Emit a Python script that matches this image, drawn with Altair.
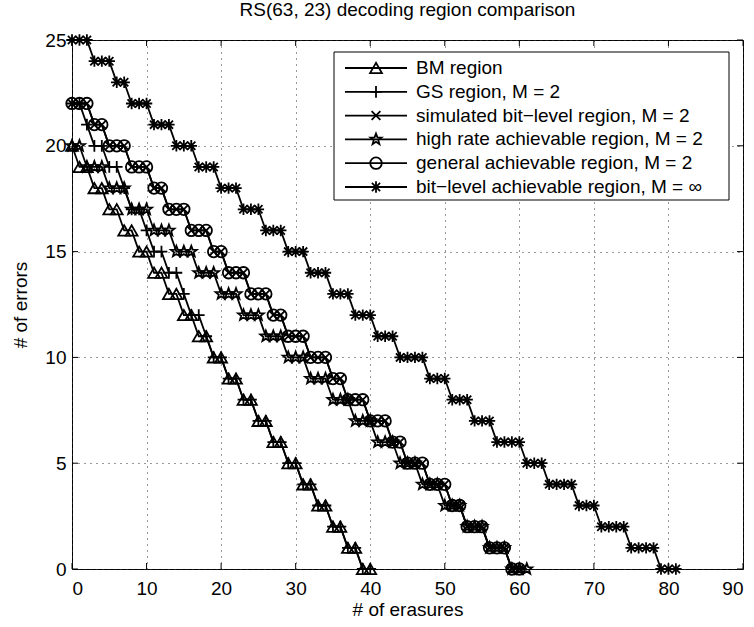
import math
import altair as alt
import pandas as pd

# ---------------- data ----------------
series_names = [
    "BM region",
    "GS region, M = 2",
    "simulated bit\u2212level region, M = 2",
    "high rate achievable region, M = 2",
    "general achievable region, M = 2",
    "bit\u2212level achievable region, M = \u221e",
]

x_ticks = [0, 10, 20, 30, 40, 50, 60, 70, 80, 90]
y_ticks = [0, 5, 10, 15, 20, 25]

# number of errors at erasures = 0, 1, 2, ...
bm_errors = [20, 19, 19, 18, 18, 17, 17, 16, 16, 15, 15, 14, 14, 13, 13, 12, 12,
             11, 11, 10, 10, 9, 9, 8, 8, 7, 7, 6, 6, 5, 5, 4, 4, 3, 3, 2, 2,
             1, 1, 0, 0]
gs_errors = [22, 22, 21, 20, 20, 19, 19, 18, 17, 17, 16, 15, 15, 14, 14, 13, 12,
             12, 11, 10, 10, 9, 9, 8, 8, 7, 7, 6, 6, 5, 5, 4, 4, 3, 3, 2, 2,
             1, 1, 0, 0]
sim_errors = [22, 22, 22, 21, 21, 20, 20, 20, 19, 19, 19, 18, 18, 17, 17, 17,
              16, 16, 16, 15, 15, 14, 14, 14, 13, 13, 13, 12, 12, 11, 11, 11,
              10, 10, 10, 9, 9, 8, 8, 8, 7, 7, 7, 6, 6, 5, 5, 5, 4, 4, 4, 3, 3,
              2, 2, 2, 1, 1, 1, 0, 0]
hr_errors = [20, 20, 19, 19, 19, 18, 18, 18, 17, 17, 17, 16, 16, 16, 15, 15, 15,
             14, 14, 14, 13, 13, 13, 12, 12, 12, 11, 11, 11, 10, 10, 10, 9, 9, 9,
             8, 8, 8, 7, 7, 7, 6, 6, 6, 5, 5, 5, 4, 4, 4, 3, 3, 3, 2, 2, 2,
             1, 1, 1, 0, 0, 0]
gen_errors = [22, 22, 22, 21, 21, 20, 20, 20, 19, 19, 19, 18, 18, 17, 17, 17,
              16, 16, 16, 15, 15, 14, 14, 14, 13, 13, 13, 12, 12, 11, 11, 11,
              10, 10, 10, 9, 9, 8, 8, 8, 7, 7, 7, 6, 6, 5, 5, 5, 4, 4, 4, 3, 3,
              2, 2, 2, 1, 1, 1, 0, 0]
bit_errors = [25, 25, 25, 24, 24, 24, 23, 23, 22, 22, 22, 21, 21, 21, 20, 20, 20,
              19, 19, 19, 18, 18, 18, 17, 17, 17, 16, 16, 16, 15, 15, 15, 14, 14,
              14, 13, 13, 13, 12, 12, 12, 11, 11, 11, 10, 10, 10, 10, 9, 9, 9,
              8, 8, 8, 7, 7, 7, 6, 6, 6, 6, 5, 5, 5, 4, 4, 4, 4, 3, 3, 3,
              2, 2, 2, 2, 1, 1, 1, 1, 0, 0, 0]

all_errors = [bm_errors, gs_errors, sim_errors, hr_errors, gen_errors, bit_errors]

rows = []
for name, errs in zip(series_names, all_errors):
    for f, e in enumerate(errs):
        rows.append({"series": name, "erasures": f, "errors": e})
df = pd.DataFrame(rows)

# ---------------- styling ----------------
FONT = "Liberation Sans"
FS = 19
W, H = 671, 529
LW = 1.8

star_pts = []
for i in range(10):
    a = -math.pi / 2 + i * math.pi / 5
    r = 1.0 if i % 2 == 0 else 0.42
    star_pts.append(f"{r * math.cos(a):.3f},{r * math.sin(a):.3f}")
star_path = "M" + " L".join(star_pts) + " Z"

shape_range = [
    "triangle-up",
    "M-1,0H1M0,-1V1",
    "M-0.75,-0.75L0.75,0.75M-0.75,0.75L0.75,-0.75",
    star_path,
    "circle",
    "M-1,0H1M0,-1V1M-0.72,-0.72L0.72,0.72M-0.72,0.72L0.72,-0.72",
]
size_range = [140, 130, 110, 220, 121, 130]

shape_enc = alt.Shape("series:N", scale=alt.Scale(domain=series_names, range=shape_range), legend=None)
size_enc = alt.Size("series:N", scale=alt.Scale(domain=series_names, range=size_range), legend=None)

xscale = alt.Scale(domain=[0, 90], nice=False, zero=False)
yscale = alt.Scale(domain=[0, 25], nice=False, zero=False)

x_axis = alt.Axis(values=x_ticks, grid=True, gridDash=[1, 5], gridColor="#333333",
                  gridOpacity=1, ticks=False, tickSize=0, domain=False,
                  labelFontSize=FS, labelFont=FONT, labelColor="black", labelPadding=10,
                  title="# of erasures", titleFont=FONT, titleFontSize=FS,
                  titleFontWeight="normal", titleColor="black", titlePadding=2)
y_axis = alt.Axis(values=y_ticks, grid=True, gridDash=[1, 5], gridColor="#333333",
                  gridOpacity=1, ticks=False, tickSize=0, domain=False,
                  labelFontSize=FS, labelFont=FONT, labelColor="black", labelPadding=6,
                  title="# of errors", titleFont=FONT, titleFontSize=FS,
                  titleFontWeight="normal", titleColor="black", titlePadding=14)

base = alt.Chart(df)

lines = base.mark_line(color="black", strokeWidth=LW).encode(
    x=alt.X("erasures:Q", scale=xscale, axis=x_axis),
    y=alt.Y("errors:Q", scale=yscale, axis=y_axis),
    detail="series:N",
    order="erasures:Q",
)

points = base.mark_point(filled=False, color="black", strokeWidth=LW, opacity=1).encode(
    x=alt.X("erasures:Q", scale=xscale, axis=x_axis),
    y=alt.Y("errors:Q", scale=yscale, axis=y_axis),
    shape=shape_enc,
    size=size_enc,
)

# inward ticks on all four sides (MATLAB box style)
xt = alt.Chart(pd.DataFrame({"t": x_ticks}))
yt = alt.Chart(pd.DataFrame({"t": y_ticks}))
tick_bottom = xt.mark_rule(color="black").encode(
    x=alt.X("t:Q", scale=xscale, axis=x_axis), y=alt.value(H), y2=alt.value(H - 6))
tick_top = xt.mark_rule(color="black").encode(
    x=alt.X("t:Q", scale=xscale, axis=x_axis), y=alt.value(0), y2=alt.value(6))
tick_left = yt.mark_rule(color="black").encode(
    y=alt.Y("t:Q", scale=yscale, axis=y_axis), x=alt.value(0), x2=alt.value(6))
tick_right = yt.mark_rule(color="black").encode(
    y=alt.Y("t:Q", scale=yscale, axis=y_axis), x=alt.value(W), x2=alt.value(W - 6))

# legend
leg_df = pd.DataFrame({"series": series_names, "row": list(range(len(series_names)))})
leg = alt.Chart(leg_df).transform_calculate(ly="28 + datum.row * 23.8")
leg_box = alt.Chart(pd.DataFrame({"a": [0]})).mark_rect(
    fill="white", stroke="black", strokeWidth=1).encode(
    x=alt.value(262), x2=alt.value(657), y=alt.value(12), y2=alt.value(160))
leg_lines = leg.mark_rule(color="black", strokeWidth=LW).encode(
    x=alt.value(273), x2=alt.value(335), y=alt.Y("ly:Q", scale=None))
leg_points = leg.mark_point(filled=False, color="black", strokeWidth=LW, opacity=1).encode(
    x=alt.value(304), y=alt.Y("ly:Q", scale=None), shape=shape_enc, size=size_enc)
leg_text = leg.mark_text(align="left", baseline="middle", font=FONT, fontSize=FS,
                         color="black").encode(
    x=alt.value(344), y=alt.Y("ly:Q", scale=None), text="series:N")

chart = alt.layer(
    lines, points, tick_bottom, tick_top, tick_left, tick_right,
    leg_box, leg_lines, leg_points, leg_text,
).properties(
    width=W, height=H,
    title=alt.TitleParams("RS(63, 23) decoding region comparison", font=FONT, fontSize=FS,
                          fontWeight="normal", color="black", anchor="middle", offset=11),
    autosize=alt.AutoSizeParams(type="none"),
    padding={"left": 72, "top": 40, "right": 11, "bottom": 58},
    background="white",
).configure_view(stroke="black", strokeWidth=1)

chart.save("out.html", embed_options={"renderer": "svg", "actions": False})
